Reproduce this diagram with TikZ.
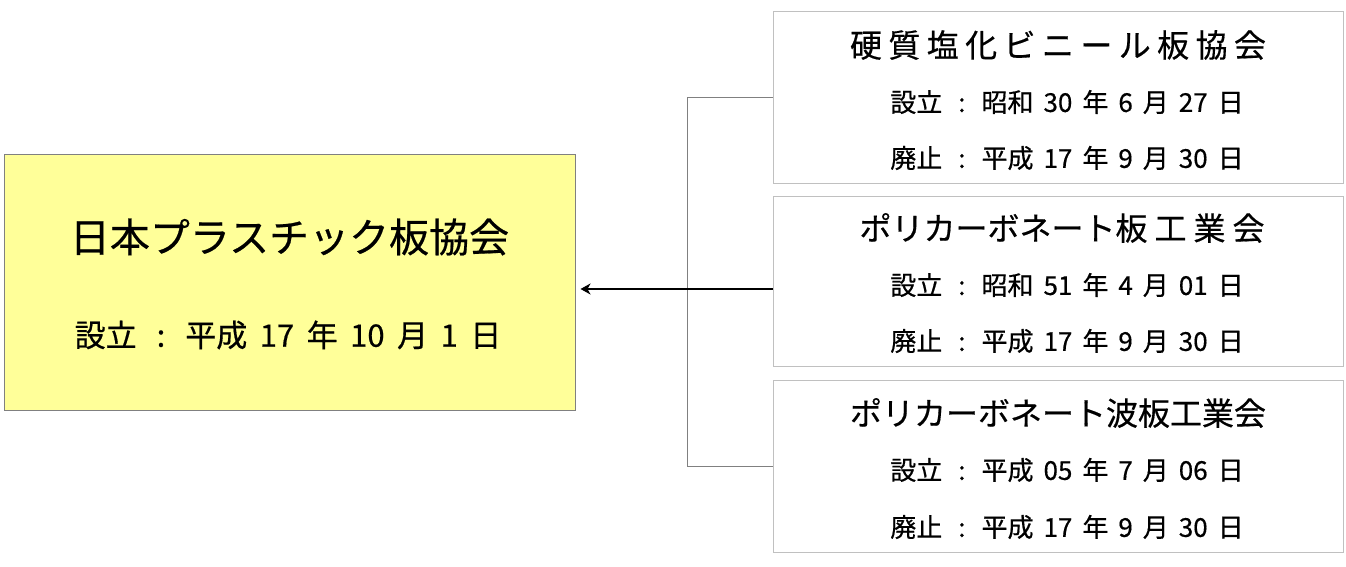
\documentclass[tikz,border=0pt]{standalone}
\usepackage{fontspec}
\setmainfont{Noto Sans CJK JP}[FakeBold=0.5]
\usetikzlibrary{arrows.meta}
\definecolor{boxyellow}{HTML}{FFFF99}
\definecolor{edgegray}{HTML}{808080}
\definecolor{lightedge}{HTML}{C0C0C0}
\newcommand{\cs}{\hspace{16pt}:\hspace{16pt}}
\newcommand{\bcs}{\hspace{20pt}:\hspace{20pt}}
\newcommand{\gs}{\hspace{10pt}}
\newcommand{\bgs}{\hspace{12.5pt}}
\tikzset{
  mainbox/.style={draw=edgegray, fill=boxyellow, line width=1pt, minimum width=571pt, minimum height=256pt, inner sep=0pt},
  subbox/.style={draw=lightedge, fill=white, line width=1pt, minimum width=570pt, minimum height=171pt, inner sep=0pt},
  bigtitle/.style={font=\fontsize{40pt}{44pt}\selectfont, inner sep=0pt},
  midtitle/.style={font=\fontsize{32pt}{36pt}\selectfont, inner sep=0pt},
  bigdate/.style={font=\fontsize{31pt}{34pt}\selectfont, inner sep=0pt},
  smalldate/.style={font=\fontsize{26pt}{30pt}\selectfont, inner sep=0pt},
  bracket/.style={draw=edgegray, line width=1pt},
  mainarrow/.style={draw=black, line width=1.4pt, -{Stealth[length=10pt,width=11pt,inset=3pt]}}
}
\begin{document}
\begin{tikzpicture}[x=1pt,y=-1pt]
\useasboundingbox (0,0) rectangle (1346,567);
% main box
\node[mainbox] (main) at (289.5,282) {};
\node[bigtitle] (mt) at (289.5,237) {日本プラスチック板協会};
\node[bigdate] (md) at (288,335) {設立\bcs 平成\bgs 17\bgs 年\bgs 10\bgs 月\bgs 1\bgs 日};
% right boxes
\node[subbox] (b1) at (1058,97.5) {};
\node[midtitle] (t1) at (1058,45) {\addfontfeature{LetterSpace=20}硬質塩化ビニール板協会};
\node[smalldate] (s1) at (1067,102) {設立\cs 昭和\gs 30\gs 年\gs 6\gs 月\gs 27\gs 日};
\node[smalldate] (e1) at (1067,158) {廃止\cs 平成\gs 17\gs 年\gs 9\gs 月\gs 30\gs 日};
\node[subbox, minimum height=170pt] (b2) at (1058,281) {};
\node[midtitle] (t2) at (1062,228) {ポリカーボネート板\hspace{7pt}工\hspace{7pt}業\hspace{7pt}会};
\node[smalldate] (s2) at (1067,285) {設立\cs 昭和\gs 51\gs 年\gs 4\gs 月\gs 01\gs 日};
\node[smalldate] (e2) at (1067,341) {廃止\cs 平成\gs 17\gs 年\gs 9\gs 月\gs 30\gs 日};
\node[subbox, minimum height=172pt] (b3) at (1058,466) {};
\node[midtitle] (t3) at (1058,413) {ポリカーボネート波板工業会};
\node[smalldate] (s3) at (1067,470) {設立\cs 平成\gs 05\gs 年\gs 7\gs 月\gs 06\gs 日};
\node[smalldate] (e3) at (1067,527) {廃止\cs 平成\gs 17\gs 年\gs 9\gs 月\gs 30\gs 日};
% connectors
\draw[bracket] (b1.west) -- ++(-85,0) |- (b3.west);
\coordinate (arrowstart) at ([yshift=-8pt]b2.west);
\draw[mainarrow, shorten >=5pt] (arrowstart) -- (arrowstart -| main.east);
\end{tikzpicture}
\end{document}
